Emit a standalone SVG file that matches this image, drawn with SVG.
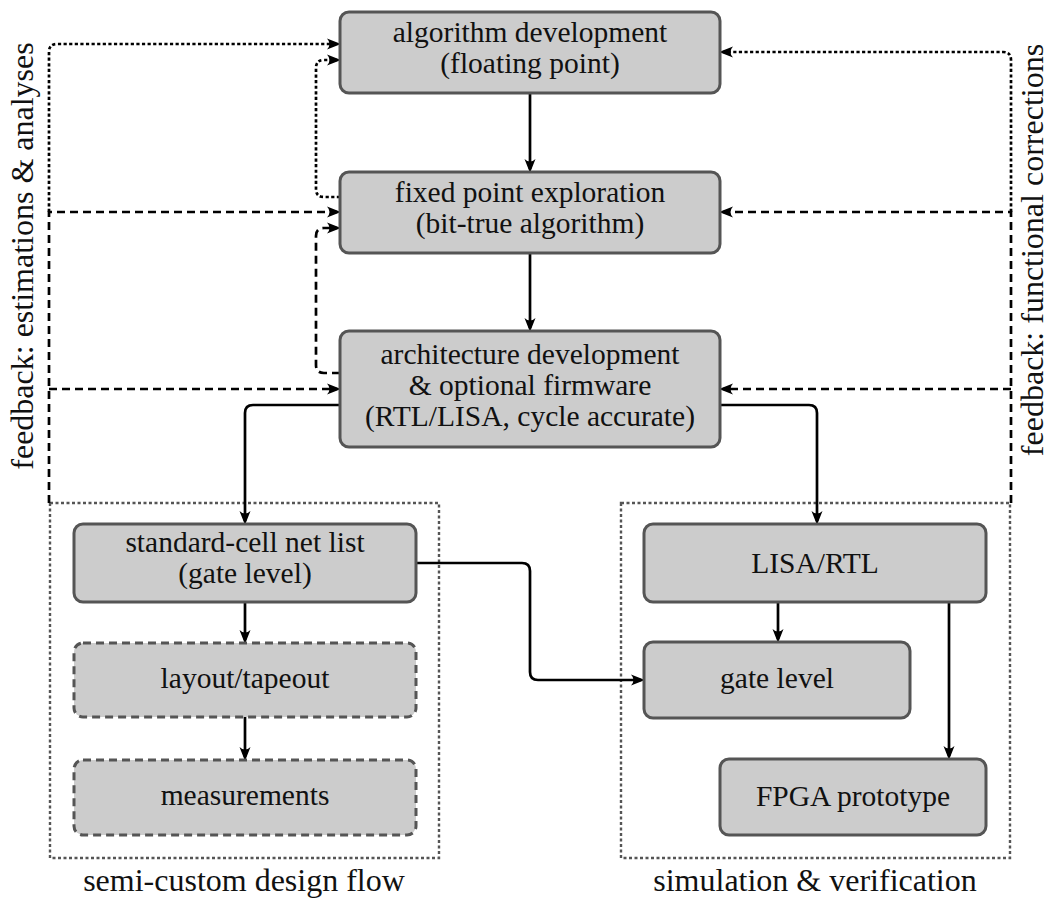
<svg xmlns="http://www.w3.org/2000/svg" width="1049" height="900" viewBox="0 0 1049 900">
  <defs>
    <marker id="arrow" viewBox="0 0 14 12" refX="10" refY="6" markerWidth="14" markerHeight="12" markerUnits="userSpaceOnUse" orient="auto">
      <path d="M0,0.5 L14,6 L0,11.5 Q5,6 0,0.5 Z" fill="#000"/>
    </marker>
    <style>
      .node rect { fill: #cccccc; stroke: #555555; stroke-width: 3; }
      .node.dashed rect { stroke-dasharray: 8 5; }
      text { font-family: "Liberation Serif", "Tinos", "Times New Roman", "DejaVu Serif", serif; fill: #111; text-anchor: middle; }
      .label { font-size: 29.5px; }
      .caption { font-size: 32px; }
      .side { font-size: 32px; }
      .group { fill: none; stroke: #555555; stroke-width: 2.4; stroke-dasharray: 3 2.5; }
      .flow { fill: none; stroke: #000; stroke-width: 2.7; marker-end: url(#arrow); }
      .fb-dash { fill: none; stroke: #000; stroke-width: 2.7; stroke-dasharray: 8 5; }
      .fb-dot { fill: none; stroke: #000; stroke-width: 2.7; stroke-dasharray: 3.2 2.4; }
      .arr { marker-end: url(#arrow); }
    </style>
  </defs>

  <!-- grouping frames -->
  <g id="group-semicustom">
    <rect class="group" x="50" y="503" width="389" height="355"/>
    <text class="caption" x="244" y="891">semi-custom design flow</text>
  </g>
  <g id="group-simulation">
    <rect class="group" x="621" y="503" width="389" height="355"/>
    <text class="caption" x="815" y="891">simulation &amp; verification</text>
  </g>

  <!-- side captions for the feedback loops -->
  <text class="side" transform="translate(33,256) rotate(-90)">feedback: estimations &amp; analyses</text>
  <text class="side" transform="translate(1043,250) rotate(-90)">feedback: functional corrections</text>

  <!-- connectors -->
  <g id="connectors">
    <!-- main flow -->
    <path class="flow" d="M530,93 V169"/>
    <path class="flow" d="M530,253 V328"/>
    <path class="flow" d="M340,405 H253 Q245,405 245,413 V521"/>
    <path class="flow" d="M720,405 H809 Q817,405 817,413 V521"/>
    <path class="flow" d="M245,602 V640"/>
    <path class="flow" d="M245,717 V757"/>
    <path class="flow" d="M416,563 H522 Q530,563 530,571 V672 Q530,680 538,680 H641"/>
    <path class="flow" d="M778,602 V639"/>
    <path class="flow" d="M949,602 V756"/>

    <!-- left feedback: estimations & analyses -->
    <path class="fb-dot arr" d="M49,212 V52 Q49,44 57,44 H337"/>
    <path class="fb-dash arr" d="M49,503 V212 H337"/>
    <path class="fb-dash arr" d="M49,389 H337"/>

    <!-- inner loops -->
    <path class="fb-dot arr" d="M340,197 H324 Q316,197 316,189 V68 Q316,60 324,60 H337"/>
    <path class="fb-dash arr" d="M340,373 H324 Q316,373 316,365 V236 Q316,228 324,228 H337"/>

    <!-- right feedback: functional corrections -->
    <path class="fb-dot arr" d="M1011,212 V60 Q1011,52 1003,52 H723"/>
    <path class="fb-dash arr" d="M1011,503 V212 H723"/>
    <path class="fb-dash arr" d="M1011,389 H723"/>
  </g>

  <!-- nodes -->
  <g id="algorithm" class="node">
    <rect x="340" y="12" width="380" height="81" rx="9"/>
    <text class="label" x="530" y="42">algorithm development</text>
    <text class="label" x="530" y="73">(floating point)</text>
  </g>
  <g id="fixedpoint" class="node">
    <rect x="340" y="172" width="380" height="81" rx="9"/>
    <text class="label" x="530" y="202">fixed point exploration</text>
    <text class="label" x="530" y="233">(bit-true algorithm)</text>
  </g>
  <g id="architecture" class="node">
    <rect x="340" y="331" width="380" height="116" rx="9"/>
    <text class="label" x="530" y="364">architecture development</text>
    <text class="label" x="530" y="395">&amp; optional firmware</text>
    <text class="label" x="530" y="426">(RTL/LISA, cycle accurate)</text>
  </g>
  <g id="netlist" class="node">
    <rect x="74" y="524" width="342" height="78" rx="9"/>
    <text class="label" x="245" y="552">standard-cell net list</text>
    <text class="label" x="245" y="583">(gate level)</text>
  </g>
  <g id="layout" class="node dashed">
    <rect x="74" y="643" width="342" height="74" rx="9"/>
    <text class="label" x="245" y="688">layout/tapeout</text>
  </g>
  <g id="measurements" class="node dashed">
    <rect x="74" y="760" width="342" height="75" rx="9"/>
    <text class="label" x="245" y="805">measurements</text>
  </g>
  <g id="lisartl" class="node">
    <rect x="644" y="524" width="342" height="78" rx="9"/>
    <text class="label" x="815" y="573">LISA/RTL</text>
  </g>
  <g id="gatelevel" class="node">
    <rect x="644" y="642" width="266" height="76" rx="9"/>
    <text class="label" x="777" y="688">gate level</text>
  </g>
  <g id="fpga" class="node">
    <rect x="720" y="759" width="266" height="76" rx="9"/>
    <text class="label" x="853" y="806">FPGA prototype</text>
  </g>
</svg>
